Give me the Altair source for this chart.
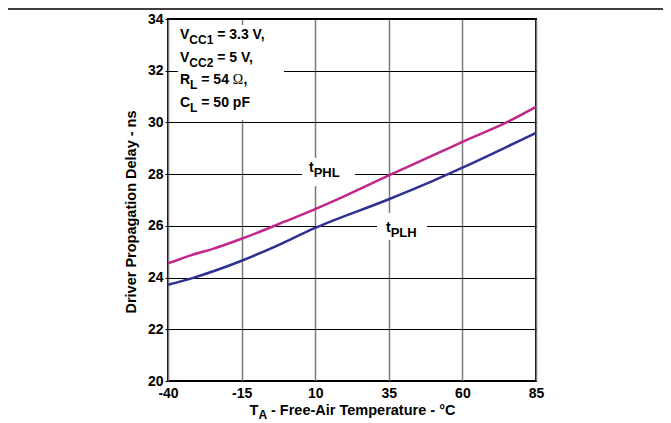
import altair as alt
import pandas as pd

# ---------------- data ----------------
x_ticks = [-40, -15, 10, 35, 60, 85]
y_ticks = [20, 22, 24, 26, 28, 30, 32, 34]

phl_temp = [-40, -35, -32, -25, -15, 0, 10, 20, 35, 52, 60, 75, 85]
phl_ns = [24.55, 24.75, 24.87, 25.1, 25.5, 26.18, 26.65, 27.15, 27.95, 28.83, 29.25, 30.0, 30.6]

plh_temp = [-40, -32, -15, -5, 10, 35, 50, 60, 85]
plh_ns = [23.72, 23.97, 24.65, 25.13, 25.92, 27.03, 27.74, 28.25, 29.6]

series_names = ["tPHL", "tPLH"]
series_colors = ["#C0268B", "#2E3192"]

df = pd.concat([
    pd.DataFrame({"temp": phl_temp, "delay": phl_ns, "series": "tPHL"}),
    pd.DataFrame({"temp": plh_temp, "delay": plh_ns, "series": "tPLH"}),
], ignore_index=True)

W, H = 368, 362
FONT = "Liberation Sans"

x_scale = alt.Scale(domain=[-40, 85], nice=False, zero=False)
y_scale = alt.Scale(domain=[20, 34], nice=False, zero=False)

lines = alt.Chart(df).mark_line(strokeWidth=2.5, interpolate="monotone").encode(
    x=alt.X("temp:Q", scale=x_scale, title=None,
            axis=alt.Axis(values=x_ticks, grid=True, gridColor="#7a7a7a", gridWidth=1.5,
                          domain=False, ticks=False, labelPadding=5, labelFlush=False,
                          labelExpr="'' + datum.value")),
    y=alt.Y("delay:Q", scale=y_scale, title=None,
            axis=alt.Axis(values=y_ticks, grid=True, gridColor="black", gridWidth=1,
                          domain=False, ticks=True, tickSize=3, tickColor="black",
                          tickWidth=1, labelPadding=2, labelExpr="'' + datum.value")),
    color=alt.Color("series:N", scale=alt.Scale(domain=series_names, range=series_colors),
                    legend=None),
)

# white boxes behind annotation text (pixel coordinates inside plot)
boxes = pd.DataFrame({
    "x1": [10, 134, 209],
    "x2": [116, 187, 259],
    "y1": [6, 139, 194],
    "y2": [101, 167, 221],
})
rects = alt.Chart(boxes).mark_rect(fill="white").encode(
    x=alt.X("x1:Q", scale=None, axis=None),
    x2="x2:Q",
    y=alt.Y("y1:Q", scale=None, axis=None),
    y2="y2:Q",
)

# annotation fragments (sans bold)
frag_text = ["V", "CC1", "= 3.3 V,",
             "V", "CC2", "= 5 V,",
             "R", "L", "= 54", ",",
             "C", "L", "= 50 pF",
             "t", "PHL",
             "t", "PLH",
             "T", "A", "- Free-Air Temperature - °C"]
frag_x = [12, 21.3, 49.2,
          12, 21.3, 49.2,
          12, 22.1, 33.3, 75.6,
          12, 22.1, 33.3,
          141, 145.7,
          218, 222.7,
          81.5, 90.4, 103.0]
frag_y = [20, 25, 20,
          42.7, 47.7, 42.7,
          65.3, 70.3, 65.3, 65.3,
          87.7, 92.7, 87.7,
          153, 158,
          213, 218,
          396, 400, 396]
frag_size = [14, 12, 14,
             14, 12, 14,
             14, 12, 14, 14,
             14, 12, 14,
             14, 13,
             14, 13,
             14.5, 12, 14.5]
frags = pd.DataFrame({"text": frag_text, "px": frag_x, "py": frag_y, "fs": frag_size})

texts = alt.Chart(frags).mark_text(font=FONT, fontWeight="bold", align="left",
                                   baseline="alphabetic", color="black").encode(
    x=alt.X("px:Q", scale=None, axis=None),
    y=alt.Y("py:Q", scale=None, axis=None),
    text="text:N",
    size=alt.Size("fs:Q", scale=None, legend=None),
)

omega = alt.Chart(pd.DataFrame({"text": ["Ω"]})).mark_text(
    font="Liberation Serif", fontSize=14, align="left", baseline="alphabetic", color="black"
).encode(x=alt.value(64.8), y=alt.value(65.3), text="text:N")

ytitle = alt.Chart(pd.DataFrame({"text": ["Driver Propagation Delay - ns"]})).mark_text(
    font=FONT, fontWeight="bold", fontSize=14.5, angle=270, align="center",
    baseline="alphabetic", color="black"
).encode(x=alt.value(-32), y=alt.value(193), text="text:N")

top_rule = alt.Chart(pd.DataFrame({"a": [0]})).mark_rule(color="black", strokeWidth=1.5).encode(
    x=alt.value(-160), x2=alt.value(500), y=alt.value(-10)
)

chart = alt.layer(rects, lines, texts, omega, ytitle, top_rule).properties(
    width=W, height=H,
    autosize=alt.AutoSizeParams(type="none"),
    padding={"left": 160, "top": 11, "right": 127, "bottom": 42},
).configure_view(
    stroke="black", strokeWidth=2
).configure_axis(
    labelFont=FONT, labelFontWeight="bold", labelFontSize=14, labelColor="black",
)

chart.save("out.html", embed_options={"renderer": "svg", "actions": False})
